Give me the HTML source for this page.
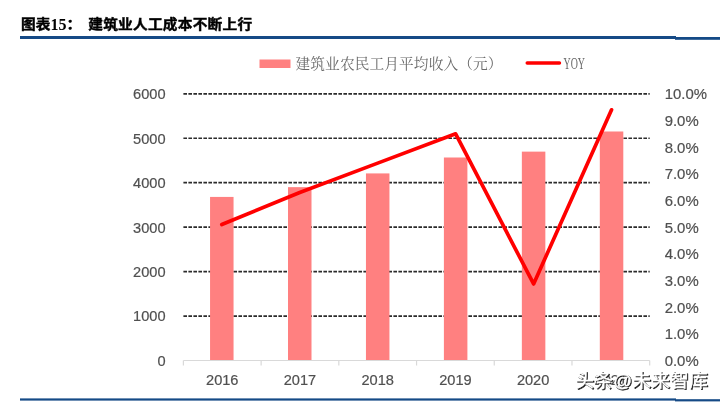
<!DOCTYPE html>
<html><head><meta charset="utf-8"><title>chart</title>
<style>
html,body{margin:0;padding:0;background:#fff;}
body{width:720px;height:402px;overflow:hidden;position:relative;}
svg{position:absolute;left:0;top:0;}
.ax{font-family:"Liberation Sans",sans-serif;font-size:14.6px;fill:#505050;stroke:#505050;stroke-width:0.2px;}
.ttl{font-family:"Liberation Sans","Noto Sans CJK SC",sans-serif;font-weight:bold;font-size:14.7px;fill:#000;stroke:#000;stroke-width:0.45px;}
.num{font-family:"Liberation Serif",serif;font-weight:bold;font-size:16px;fill:#000;}
.lg{font-family:"Liberation Serif","Noto Serif CJK SC",serif;font-size:14.7px;fill:#6a6a6a;}
.wm{font-family:"Liberation Sans","Noto Sans CJK SC",sans-serif;font-size:18.6px;}
</style></head><body>
<svg width="720" height="402" viewBox="0 0 720 402">
<rect width="720" height="402" fill="#fff"/>

<g transform="translate(0,28.5) scale(1,0.91)"><text class="ttl" x="21" y="0">图表</text><text class="ttl" x="66.5" y="0">：</text>
<text class="ttl" x="88.3" y="0" textLength="163.8">建筑业人工成本不断上行</text></g>
<text class="num" x="50.5" y="30">15</text>
<rect x="20" y="36" width="656" height="3" fill="#154a86"/>
<rect x="675" y="37" width="45" height="2.8" fill="#154a86"/>
<rect x="20" y="398.4" width="656" height="2.2" fill="#154a86"/>
<rect x="675" y="399.2" width="45" height="2.2" fill="#154a86"/>
<rect x="259.5" y="59.5" width="31" height="8.5" fill="#ff8080"/>
<text class="lg" x="295.5" y="69.2" textLength="207">建筑业农民工月平均收入（元）</text>
<line x1="527.2" y1="63" x2="559.5" y2="63" stroke="#ff0000" stroke-width="3.4" stroke-linecap="round"/>
<text class="lg" x="563.5" y="69.3" textLength="21.5" lengthAdjust="spacingAndGlyphs" style="font-size:16px">YOY</text>
<line x1="183.4" y1="316.05" x2="649.7" y2="316.05" stroke="#2b2b2b" stroke-width="1.7" stroke-dasharray="3.6 1.4"/>
<line x1="183.4" y1="271.60" x2="649.7" y2="271.60" stroke="#2b2b2b" stroke-width="1.7" stroke-dasharray="3.6 1.4"/>
<line x1="183.4" y1="227.15" x2="649.7" y2="227.15" stroke="#2b2b2b" stroke-width="1.7" stroke-dasharray="3.6 1.4"/>
<line x1="183.4" y1="182.70" x2="649.7" y2="182.70" stroke="#2b2b2b" stroke-width="1.7" stroke-dasharray="3.6 1.4"/>
<line x1="183.4" y1="138.25" x2="649.7" y2="138.25" stroke="#2b2b2b" stroke-width="1.7" stroke-dasharray="3.6 1.4"/>
<line x1="183.4" y1="93.80" x2="649.7" y2="93.80" stroke="#2b2b2b" stroke-width="1.7" stroke-dasharray="3.6 1.4"/>
<rect x="210.05" y="196.92" width="23.5" height="163.58" fill="#ff8080"/>
<rect x="288.00" y="187.15" width="23.5" height="173.35" fill="#ff8080"/>
<rect x="365.95" y="173.41" width="23.5" height="187.09" fill="#ff8080"/>
<rect x="443.90" y="157.50" width="23.5" height="203.00" fill="#ff8080"/>
<rect x="521.85" y="151.63" width="23.5" height="208.87" fill="#ff8080"/>
<rect x="599.80" y="131.49" width="23.5" height="229.01" fill="#ff8080"/>
<line x1="183.4" y1="360.5" x2="649.7" y2="360.5" stroke="#d9d9d9" stroke-width="1.2"/>
<line x1="183.40" y1="360.5" x2="183.40" y2="365.5" stroke="#d9d9d9" stroke-width="1.2"/>
<line x1="261.12" y1="360.5" x2="261.12" y2="365.5" stroke="#d9d9d9" stroke-width="1.2"/>
<line x1="338.83" y1="360.5" x2="338.83" y2="365.5" stroke="#d9d9d9" stroke-width="1.2"/>
<line x1="416.55" y1="360.5" x2="416.55" y2="365.5" stroke="#d9d9d9" stroke-width="1.2"/>
<line x1="494.27" y1="360.5" x2="494.27" y2="365.5" stroke="#d9d9d9" stroke-width="1.2"/>
<line x1="571.98" y1="360.5" x2="571.98" y2="365.5" stroke="#d9d9d9" stroke-width="1.2"/>
<line x1="649.70" y1="360.5" x2="649.70" y2="365.5" stroke="#d9d9d9" stroke-width="1.2"/>
<text class="ax" x="165.5" y="365.90" text-anchor="end">0</text>
<text class="ax" x="165.5" y="321.45" text-anchor="end">1000</text>
<text class="ax" x="165.5" y="277.00" text-anchor="end">2000</text>
<text class="ax" x="165.5" y="232.55" text-anchor="end">3000</text>
<text class="ax" x="165.5" y="188.10" text-anchor="end">4000</text>
<text class="ax" x="165.5" y="143.65" text-anchor="end">5000</text>
<text class="ax" x="165.5" y="99.20" text-anchor="end">6000</text>
<text class="ax" x="664.7" y="366.10" style="font-size:14.9px">0.0%</text>
<text class="ax" x="664.7" y="339.43" style="font-size:14.9px">1.0%</text>
<text class="ax" x="664.7" y="312.76" style="font-size:14.9px">2.0%</text>
<text class="ax" x="664.7" y="286.09" style="font-size:14.9px">3.0%</text>
<text class="ax" x="664.7" y="259.42" style="font-size:14.9px">4.0%</text>
<text class="ax" x="664.7" y="232.75" style="font-size:14.9px">5.0%</text>
<text class="ax" x="664.7" y="206.08" style="font-size:14.9px">6.0%</text>
<text class="ax" x="664.7" y="179.41" style="font-size:14.9px">7.0%</text>
<text class="ax" x="664.7" y="152.74" style="font-size:14.9px">8.0%</text>
<text class="ax" x="664.7" y="126.07" style="font-size:14.9px">9.0%</text>
<text class="ax" x="664.7" y="99.40" style="font-size:14.9px">10.0%</text>
<text class="ax" x="222.26" y="385" text-anchor="middle">2016</text>
<text class="ax" x="299.98" y="385" text-anchor="middle">2017</text>
<text class="ax" x="377.69" y="385" text-anchor="middle">2018</text>
<text class="ax" x="455.41" y="385" text-anchor="middle">2019</text>
<text class="ax" x="533.13" y="385" text-anchor="middle">2020</text>
<text class="ax" x="610.84" y="385" text-anchor="middle">2021</text>
<polyline points="221.80,224.48 299.75,192.48 377.70,163.14 455.65,133.81 533.60,283.96 611.55,109.80" fill="none" stroke="#ff0000" stroke-width="3.7" stroke-linecap="round" stroke-linejoin="round"/>
<text class="wm" x="576.4" y="387.9" textLength="132.4" fill="#222" stroke="#222" stroke-width="0.5" stroke-linejoin="round">头条@未来智库</text>
<text class="wm" x="575.3" y="386.8" textLength="132.4" fill="#fff" stroke="#fff" stroke-width="0.3">头条@未来智库</text>
</svg></body></html>
